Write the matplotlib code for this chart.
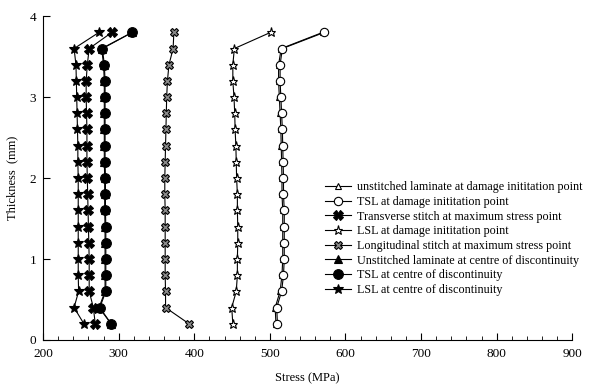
import matplotlib
matplotlib.use("Agg")
import matplotlib.pyplot as plt
import numpy as np
from matplotlib.ticker import MultipleLocator

plt.rcParams['font.family'] = ['Liberation Serif', 'DejaVu Serif']

thickness = [0.2, 0.4, 0.6, 0.8, 1.0, 1.2, 1.4, 1.6, 1.8, 2.0,
             2.2, 2.4, 2.6, 2.8, 3.0, 3.2, 3.4, 3.6, 3.8]

unstitched_damage = [508, 507, 513.5, 516, 517, 517, 517, 517, 516, 516,
                     515.5, 515, 514.5, 513.5, 512.5, 511.5, 511.5, 515, 570]
tsl_damage = [510, 509, 515.5, 518, 519, 519, 519, 519, 518, 518,
              517.5, 517, 516.5, 515.5, 514.5, 513.5, 513.5, 516.5, 572]
transverse_max = [269, 266.5, 261, 261, 261, 260.5, 260, 259.5, 259, 258.5,
                  258, 258, 258, 257.5, 257, 257, 258.5, 261, 291]
lsl_damage = [451, 449.5, 455.5, 457, 457, 457.5, 457.5, 457, 457, 456,
              455.5, 455, 454, 453.5, 452.5, 451, 451, 453, 501]
longitudinal_max = [393, 362, 362, 361.5, 361.5, 361.5, 361.5, 361.5, 361, 361,
                    361.5, 362, 362.5, 363, 363.5, 364.5, 366.5, 372, 373]
unstitched_centre = [290, 274, 282, 282, 282, 282, 282, 281.5, 281.5, 281.5,
                     281, 281, 281, 281, 281, 281, 280, 277.5, 318]
tsl_centre = [290, 275, 283, 283, 283, 283, 283, 282.5, 282.5, 282.5,
              282, 282, 282, 282, 282, 282, 281, 278.5, 318]
lsl_centre = [254, 241, 247, 246.5, 246.5, 246.5, 246.5, 246.5, 246.5, 246.5,
              246, 246, 245.5, 245, 244.5, 244, 243.5, 241, 274]

labels = ["unstitched laminate at damage inititation point",
          "TSL at damage inititation point",
          "Transverse stitch at maximum stress point",
          "LSL at damage inititation point",
          "Longitudinal stitch at maximum stress point",
          "Unstitched laminate at centre of discontinuity",
          "TSL at centre of discontinuity",
          "LSL at centre of discontinuity"]

series = [unstitched_damage, tsl_damage, transverse_max, lsl_damage,
          longitudinal_max, unstitched_centre, tsl_centre, lsl_centre]
styles = [dict(marker='^', mfc='white', ms=5),
          dict(marker='o', mfc='white', ms=6),
          dict(marker='X', mfc='black', ms=6.5),
          dict(marker='*', mfc='white', ms=6.5),
          dict(marker='X', mfc='#888888', ms=6),
          dict(marker='^', mfc='black', ms=6),
          dict(marker='o', mfc='black', ms=7),
          dict(marker='*', mfc='black', ms=7)]

fig = plt.figure(figsize=(5.9, 3.85), dpi=100)
ax = fig.add_axes([0.073, 0.117, 0.897, 0.841])

for vals, lab, st in zip(series, labels, styles):
    ax.plot(vals, thickness, color='black', lw=0.8, mec='black', mew=0.8,
            label=lab, **st)

ax.set_xlim(200, 900)
ax.set_ylim(0, 4)
ax.xaxis.set_major_locator(MultipleLocator(100))
ax.xaxis.set_minor_locator(MultipleLocator(20))
ax.yaxis.set_major_locator(MultipleLocator(1))
ax.tick_params(which='both', direction='in', labelsize=9.5)
ax.tick_params(which='major', length=5)
ax.tick_params(which='minor', length=3)
ax.tick_params(axis='x', pad=6)
ax.tick_params(axis='y', pad=5)
ax.spines['top'].set_visible(False)
ax.spines['right'].set_visible(False)
ax.set_xlabel("Stress (MPa)", fontsize=9)
ax.set_ylabel("Thickness  (mm)", fontsize=9)
ax.xaxis.label.set_va('center')
ax.xaxis.set_label_coords(0.5, -0.117)
ax.yaxis.label.set_va('center')
ax.yaxis.set_label_coords(-0.059, 0.5)

ax.legend(loc='upper left', bbox_to_anchor=(0.523, 0.505), frameon=False,
          fontsize=8.7, handlelength=2.2, handletextpad=0.5, labelspacing=0.22,
          borderaxespad=0)

fig.savefig("out.png", dpi=100)
